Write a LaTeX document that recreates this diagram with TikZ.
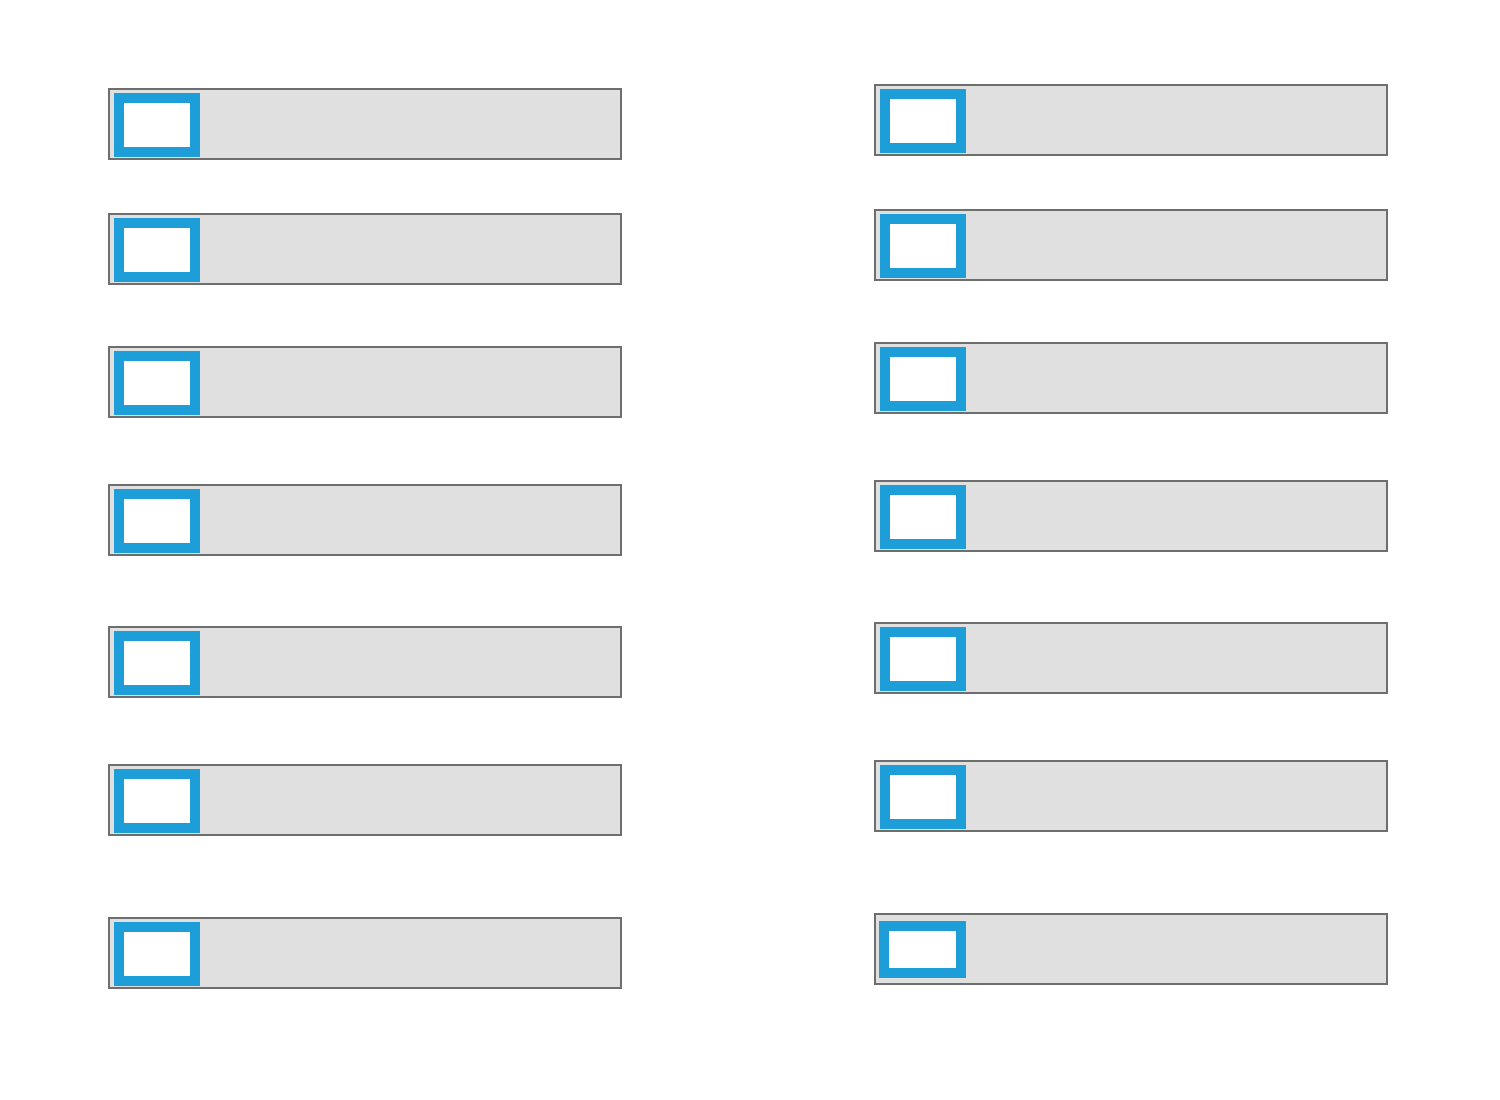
\documentclass[tikz,border=0pt]{standalone}
\definecolor{boxgray}{HTML}{E0E0E0}
\definecolor{edgegray}{HTML}{6E6E6E}
\definecolor{iconblue}{HTML}{1E9ED9}
\begin{document}
\begin{tikzpicture}[x=1pt,y=-1pt,
  bar/.style={draw=edgegray,fill=boxgray,line width=2pt,minimum width=512pt,minimum height=70pt,inner sep=0pt,outer sep=0pt,rectangle},
  icon/.style={draw=iconblue,fill=white,line width=10pt,minimum width=76pt,minimum height=54pt,inner sep=0pt,outer sep=0pt,rectangle}]
\useasboundingbox[fill=white] (0,0) rectangle (1500,1100);
% left column
\foreach \i/\y in {1/124,2/249,3/382,4/520,5/662,6/800,7/953}{
  \node[bar] (L\i) at (365,\y) {};
  \node[icon] (LI\i) at (157,\y+1) {};
}
% right column
\foreach \i/\y in {1/120,2/245,3/378,4/516,5/658,6/796}{
  \node[bar] (R\i) at (1131,\y) {};
  \node[icon] (RI\i) at (923,\y+1) {};
}
\node[bar] (R7) at (1131,949) {};
\node[icon,minimum height=47pt,minimum width=77pt] (RI7) at (922.5,949.5) {};
\end{tikzpicture}
\end{document}
